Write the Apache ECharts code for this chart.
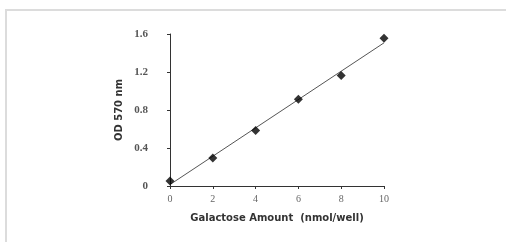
<!DOCTYPE html>
<html><head><meta charset="utf-8">
<script src="https://cdn.jsdelivr.net/npm/echarts@6/dist/echarts.min.js"></script>
<style>html,body{margin:0;padding:0;background:#fff}#c{width:506px;height:242px}</style>
</head><body><div id="c"></div>
<script>
const amounts = [0, 2, 4, 6, 8, 10];
const od570 = [0.053, 0.295, 0.584, 0.914, 1.164, 1.555];
const fitX = [0, 10];
const fitY = [0.015, 1.507];
const yTicks = [0, 0.4, 0.8, 1.2, 1.6];
const xTicks = [0, 2, 4, 6, 8, 10];

const chart = echarts.init(document.getElementById('c'), null, {renderer: 'canvas'});
chart.setOption({
  animation: false,
  backgroundColor: '#fff',
  graphic: [
    {type: 'line', shape: {x1: 5, y1: 10, x2: 506, y2: 10}, style: {stroke: '#dcdcdc', lineWidth: 2}},
    {type: 'line', shape: {x1: 6, y1: 10, x2: 6, y2: 242}, style: {stroke: '#dcdcdc', lineWidth: 2}}
  ],
  grid: {left: 170, right: 122, top: 34, bottom: 56},
  xAxis: {
    type: 'value', min: 0, max: 10, interval: 2,
    name: 'Galactose Amount  (nmol/well)', nameLocation: 'middle', nameGap: 27,
    nameTextStyle: {fontFamily: 'DejaVu Sans', fontWeight: 'bold', fontSize: 10, color: '#333'},
    axisLine: {lineStyle: {color: '#333', width: 1}},
    axisTick: {length: 3, lineStyle: {color: '#333'}},
    axisLabel: {fontFamily: 'Liberation Serif', fontSize: 10, color: '#666', margin: 8,
      formatter: v => xTicks.includes(v) ? String(v) : ''},
    splitLine: {show: false}
  },
  yAxis: {
    type: 'value', min: 0, max: 1.6, interval: 0.4,
    name: 'OD 570 nm', nameLocation: 'middle', nameGap: 46, nameRotate: 90,
    nameTextStyle: {fontFamily: 'DejaVu Sans', fontWeight: 'bold', fontSize: 10, color: '#333'},
    axisLine: {show: true, lineStyle: {color: '#333', width: 1}},
    axisTick: {show: true, length: 3, lineStyle: {color: '#333'}},
    axisLabel: {fontFamily: 'Liberation Serif', fontWeight: 'bold', fontSize: 11, color: '#555', margin: 22,
      formatter: v => { const t = yTicks.find(k => Math.abs(k - v) < 1e-9); return t === undefined ? '' : String(t); }},
    splitLine: {show: false}
  },
  series: [
    {
      type: 'line', data: fitX.map((x, i) => [x, fitY[i]]),
      symbol: 'none', lineStyle: {color: '#555', width: 1}, z: 1
    },
    {
      type: 'scatter', data: amounts.map((x, i) => [x, od570[i]]),
      symbol: 'diamond', symbolSize: 9, itemStyle: {color: '#000'}, z: 2
    }
  ]
});
</script></body></html>
